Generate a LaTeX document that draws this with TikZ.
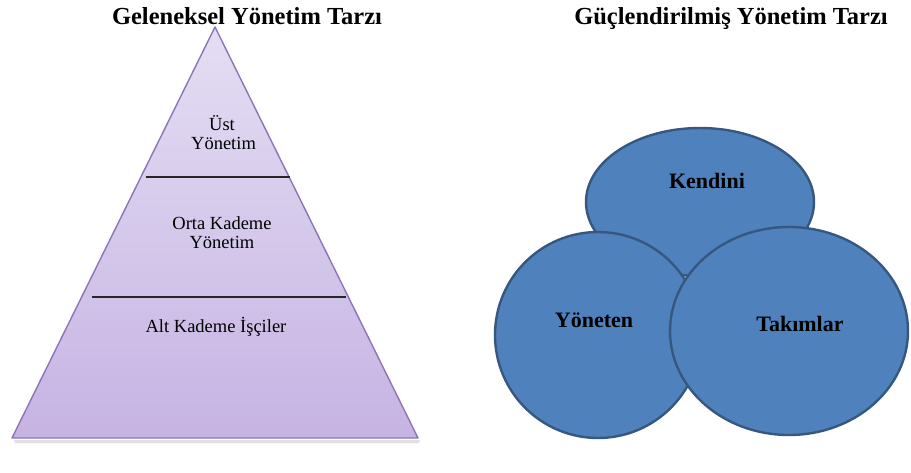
\documentclass[tikz,border=0pt]{standalone}
\usepackage{fontspec}
\setmainfont{Liberation Serif}
\usetikzlibrary{shapes.geometric}
\definecolor{circfill}{HTML}{4F81BD}
\definecolor{circline}{HTML}{36577F}
\definecolor{pyrtop}{HTML}{E4DEF3}
\definecolor{pyrbot}{HTML}{C6B3E3}
\definecolor{pyrline}{HTML}{8D74B8}
\tikzset{
  title/.style={font=\fontsize{24.5}{27}\selectfont\bfseries, anchor=base},
  level/.style={font=\fontsize{18.5}{20}\selectfont, align=center, anchor=center},
  blob/.style={ellipse, fill=circfill, draw=circline, line width=2.4pt, inner sep=0pt},
  bloblabel/.style={font=\fontsize{22}{24}\selectfont\bfseries, anchor=center},
  divider/.style={line width=1.2pt, draw=black!85}
}
\begin{document}
\begin{tikzpicture}[x=1pt,y=-1pt]
\useasboundingbox (0,0) rectangle (911,472);

% titles, sharing one baseline
\node[title] (t1) at (247,24) {Geleneksel Yönetim Tarzı};
\node[title] (t2) at (731,24) {Güçlendirilmiş Yönetim Tarzı};

% pyramid: soft shadow, then the shaded body
\fill[black!12] (14,440) -- (420,440) -- (419,443) -- (15,443) -- cycle;
\shade[top color=pyrtop, bottom color=pyrbot]
  (215,27) -- (418,438) -- (12,438) -- cycle;
\draw[pyrline, line width=1.4pt, line join=round]
  (215,27) -- (418,438) -- (12,438) -- cycle;

\coordinate (d1l) at (146,177);
\coordinate (d1r) at (290,177);
\coordinate (d2l) at (92,297);
\coordinate (d2r) at (346,297);
\draw[divider] (d1l) -- (d1r);
\draw[divider] (d2l) -- (d2r);

\node[level] (ust) at (222,133) {Üst\\[-1pt]\,Yönetim};
\node[level] (orta) at (222,233) {Orta Kademe\\[-1pt]Yönetim};
\node[level] (alt) at (216,327) {Alt Kademe İşçiler};

% overlapping circles
\node[blob, minimum width=228pt, minimum height=148pt] (ck) at (700,202) {};
\node[blob, minimum width=206pt, minimum height=206pt] (cy) at (598,335) {};
\node[blob, minimum width=238pt, minimum height=208pt] (ct) at (789,331) {};

\node[bloblabel] (lk) at (707,181) {Kendini};
\node[bloblabel] (ly) at (594,320) {Yöneten};
\node[bloblabel] (lt) at (800,324) {Takımlar};
\end{tikzpicture}
\end{document}
